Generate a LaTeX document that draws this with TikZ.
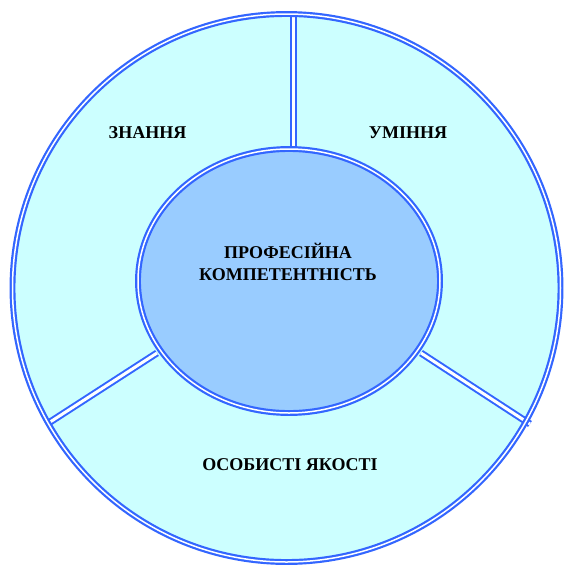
\documentclass[tikz,border=0pt]{standalone}
\usepackage{fontspec}
\setmainfont{Liberation Serif}
\usetikzlibrary{shapes.geometric}
\definecolor{ringfill}{HTML}{CCFFFF}
\definecolor{corefill}{HTML}{99CCFF}
\definecolor{edgeblue}{HTML}{3366FF}
\begin{document}
\begin{tikzpicture}[x=1pt,y=-1pt,
  dbl/.style={draw=edgeblue,line width=2.2pt,double=white,double distance=1.5pt},
  divider/.style={draw=edgeblue,line width=2pt,double=white,double distance=3pt},
  lbl/.style={font=\bfseries\fontsize{18}{22}\selectfont,align=center,inner sep=0pt}]
\useasboundingbox (0,0) rectangle (564,566);
\node[circle,minimum size=548pt,inner sep=0pt,fill=ringfill] (outer) at (286.5,288) {};
\coordinate (t1) at (293,15);
\coordinate (t2) at (293,152);
\coordinate (l1) at (157,353);
\coordinate (l2) at (47,424);
\coordinate (r1) at (421,353);
\coordinate (r2) at (530,424);
\draw[divider] (t1) -- (t2);
\draw[divider] (l1) -- (l2);
\draw[divider] (r1) -- (r2);
\node[circle,minimum size=548pt,inner sep=0pt,dbl] at (outer) {};
\node[ellipse,minimum width=302pt,minimum height=264pt,inner sep=0pt,dbl,fill=corefill] (core) at (289,281) {};
\node[lbl] (know) at (147.5,133) {ЗНАННЯ};
\node[lbl] (skill) at (408,133) {УМІННЯ};
\node[lbl] (pers) at (290,465) {ОСОБИСТІ ЯКОСТІ};
\node[lbl] (prof) at (288,262) {ПРОФЕСІЙНА\\КОМПЕТЕНТНІСТЬ};
\end{tikzpicture}
\end{document}
